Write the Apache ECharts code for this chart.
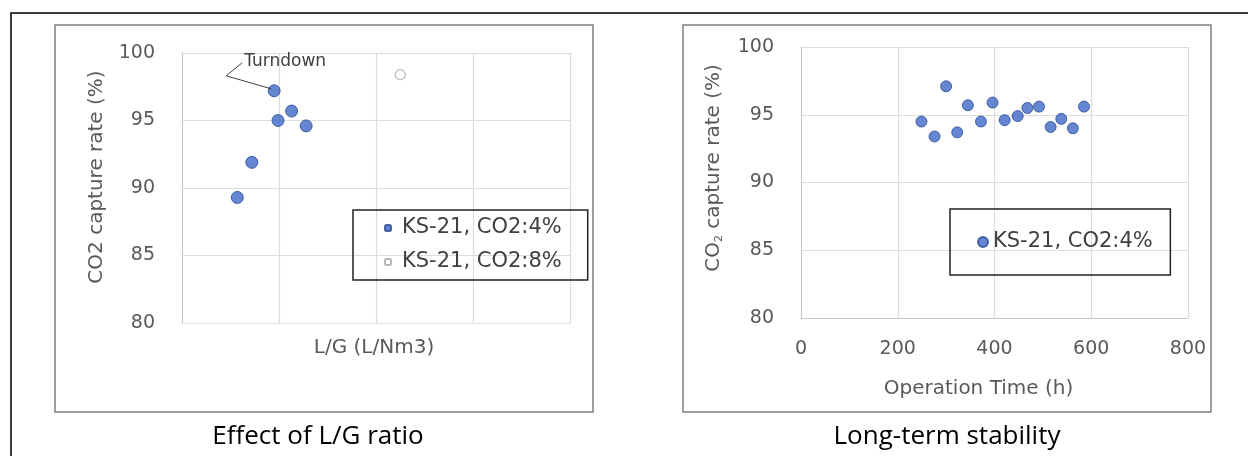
<!DOCTYPE html>
<html><head><meta charset="utf-8">
<script src="https://cdn.jsdelivr.net/npm/echarts@6/dist/echarts.min.js"></script>
<style>html,body{margin:0;padding:0;background:#fff}#c{width:1248px;height:456px}</style>
</head><body><div id="c"></div>
<script>
// ---- data ----
const seriesNames = ['KS-21, CO2:4%', 'KS-21, CO2:8%'];
// Effect of L/G ratio (x axis has no printed ticks; relative L/G units)
const lgX4 = [0.57, 0.72, 0.95, 0.99, 1.13, 1.28];
const lgY4 = [89.3, 91.9, 97.2, 95.0, 95.7, 94.6];
const lgX8 = [2.25];
const lgY8 = [98.4];
const turndownIndex = 2;
// Long-term stability
const timeH = [249, 276, 300, 323, 345, 372, 396, 421, 448, 468, 492, 516, 538, 562, 585];
const rateT = [94.5, 93.4, 97.1, 93.7, 95.7, 94.5, 95.9, 94.6, 94.9, 95.5, 95.6, 94.1, 94.7, 94.0, 95.6];
const yTicks = [80, 85, 90, 95, 100];
const timeTicks = [0, 200, 400, 600, 800];
const captions = ['Effect of L/G ratio', 'Long-term stability'];

const FONT = 'DejaVu Sans';
const TXT = '#595959';
const GRID = '#dcdcdc';

const chart = echarts.init(document.getElementById('c'), null, {renderer: 'canvas'});

function yAxisCfg(idx, name, padShift, gap) {
  return {
    type: 'value', gridIndex: idx, min: yTicks[0], max: yTicks[yTicks.length - 1], interval: 5,
    axisLine: {show: true, lineStyle: {color: '#c8c8c8', width: 1}},
    axisTick: {show: false},
    axisLabel: {color: TXT, fontFamily: FONT, fontSize: 19, margin: 27},
    splitLine: {show: true, lineStyle: {color: GRID, width: 1.2}},
    name: name, nameLocation: 'middle', nameGap: gap,
    nameTextStyle: {color: TXT, fontFamily: FONT, fontSize: 20, padding: [0, 0, 0, padShift],
      rich: {a: {color: TXT, fontFamily: FONT, fontSize: 20}, s: {color: TXT, fontFamily: FONT, fontSize: 11, verticalAlign: 'bottom', padding: [12, 0, 0, 0]}}}
  };
}

const scatterStyle = {color: '#3f68c4', borderColor: '#2a4a92', borderWidth: 1};

chart.setOption({
  animation: false,
  textStyle: {fontFamily: FONT},
  grid: [
    {left: 182, top: 53, width: 388, height: 270},
    {left: 801, top: 47, width: 387, height: 271}
  ],
  xAxis: [
    {type: 'value', gridIndex: 0, min: 0, max: 4, interval: 1,
     axisLine: {show: true, lineStyle: {color: '#e2e2e2'}}, axisTick: {show: false},
     axisLabel: {show: false},
     splitLine: {show: true, lineStyle: {color: GRID, width: 1.2}},
     name: 'L/G (L/Nm3)', nameLocation: 'middle', nameGap: 15,
     nameTextStyle: {color: TXT, fontFamily: FONT, fontSize: 20, padding: [0, 4, 0, 0]}},
    {type: 'value', gridIndex: 1, min: timeTicks[0], max: timeTicks[timeTicks.length - 1], interval: 200,
     axisLine: {show: true, lineStyle: {color: '#c8c8c8'}}, axisTick: {show: false},
     axisLabel: {color: TXT, fontFamily: FONT, fontSize: 19, margin: 22},
     splitLine: {show: true, lineStyle: {color: GRID, width: 1.2}},
     name: 'Operation Time (h)', nameLocation: 'middle', nameGap: 61,
     nameTextStyle: {color: TXT, fontFamily: FONT, fontSize: 20, padding: [0, 32, 0, 0]}}
  ],
  yAxis: [
    yAxisCfg(0, 'CO2 capture rate (%)', 22, 75),
    yAxisCfg(1, '{a|CO}{s|2}{a| capture rate (%)}', 29, 76)
  ],
  legend: [
    {data: [seriesNames[0], seriesNames[1]], orient: 'vertical', left: 353, top: 210,
     itemWidth: 6, itemHeight: 6, itemGap: 10, icon: 'roundRect',
     borderColor: '#222', borderWidth: 1.5, padding: [6, 26, 6, 31],
     textStyle: {color: '#404040', fontFamily: FONT, fontSize: 21, lineHeight: 24, padding: [0, 0, 0, 6]}},
    {data: ['KS-21, CO2:4% '], orient: 'vertical', left: 950, top: 209,
     itemWidth: 10, itemHeight: 10, icon: 'circle',
     borderColor: '#222', borderWidth: 1.5, padding: [21, 11, 21, 27],
     textStyle: {color: '#404040', fontFamily: FONT, fontSize: 21, lineHeight: 24}}
  ],
  series: [
    {name: seriesNames[0], type: 'scatter', xAxisIndex: 0, yAxisIndex: 0, symbolSize: 12,
     itemStyle: scatterStyle,
     data: lgX4.map((x, i) => [x, lgY4[i]])},
    {name: seriesNames[1], type: 'scatter', xAxisIndex: 0, yAxisIndex: 0, symbolSize: 10,
     itemStyle: {color: '#ffffff', borderColor: '#a6a6a6', borderWidth: 1.2},
     data: lgX8.map((x, i) => [x, lgY8[i]])},
    {name: 'KS-21, CO2:4% ', type: 'scatter', xAxisIndex: 1, yAxisIndex: 1, symbolSize: 11,
     itemStyle: scatterStyle,
     data: timeH.map((x, i) => [x, rateT[i]])}
  ]
});

// frames, captions, and the "Turndown" annotation
const p = chart.convertToPixel({xAxisIndex: 0, yAxisIndex: 0}, [lgX4[turndownIndex], lgY4[turndownIndex]]);
chart.setOption({
  graphic: [
    {type: 'rect', silent: true, z: -10, shape: {x: 11, y: 13, width: 1400, height: 600},
     style: {fill: null, stroke: '#000', lineWidth: 1.5}},
    {type: 'rect', silent: true, z: -10, shape: {x: 55, y: 25, width: 538, height: 387},
     style: {fill: null, stroke: '#808080', lineWidth: 1.5}},
    {type: 'rect', silent: true, z: -10, shape: {x: 683, y: 25, width: 528, height: 387},
     style: {fill: null, stroke: '#808080', lineWidth: 1.5}},
    {type: 'text', silent: true, x: 318, y: 437,
     style: {text: captions[0], fill: '#000', font: '26px "Open Sans"', align: 'center', verticalAlign: 'middle'}},
    {type: 'text', silent: true, x: 947, y: 437,
     style: {text: captions[1], fill: '#000', font: '26px "Open Sans"', align: 'center', verticalAlign: 'middle'}},
    {type: 'polyline', silent: true, z: 5,
     shape: {points: [[p[0] - 3, p[1] - 2], [p[0] - 48, p[1] - 15], [p[0] - 32, p[1] - 28]]},
     style: {stroke: '#404040', lineWidth: 1, fill: null}},
    {type: 'text', silent: true, z: 5, x: p[0] - 30, y: p[1] - 29,
     style: {text: 'Turndown', fill: '#404040', font: '17px "DejaVu Sans"', align: 'left', verticalAlign: 'middle'}}
  ]
});
</script>
</body></html>
